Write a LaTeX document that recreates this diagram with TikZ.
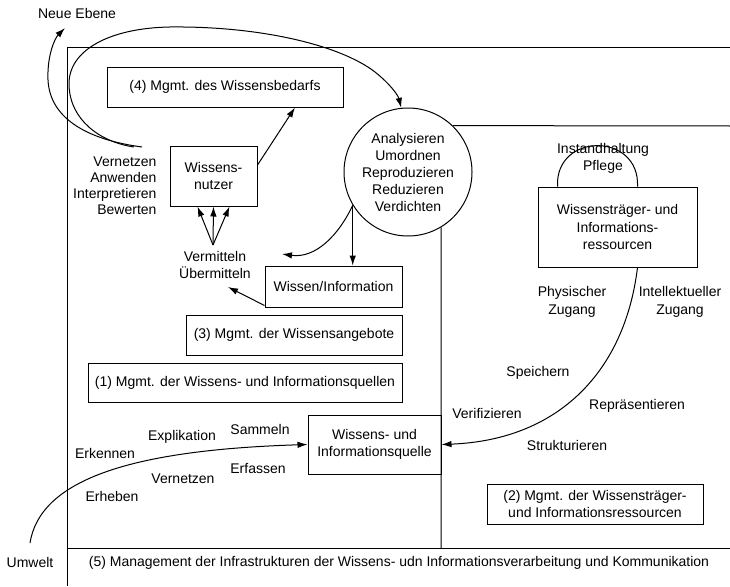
\documentclass[tikz,border=0pt]{standalone}
\usepackage{fontspec}
\setmainfont{Liberation Sans}
\usetikzlibrary{arrows.meta,calc}
\begin{document}
\begin{tikzpicture}[x=1pt,y=-1pt,
  font=\fontsize{14}{16.5}\selectfont,
  every path/.style={line width=1pt},
  arr/.style={-{Latex[length=10pt,width=6.5pt]}},
  box/.style={draw, line width=1pt, inner sep=0pt, align=center, minimum width=#1},
  lbl/.style={inner sep=1pt, align=center}
]
\useasboundingbox (0,0) rectangle (730,586);

% frame lines
\draw (67,586) -- (67,48) -- (730,48);
\draw (67,548) -- (730,548);

% circle
\node[draw, circle, minimum size=128pt, inner sep=0pt, align=center, font=\fontsize{14}{17}\selectfont] (circ) at (408,172)
  {Analysieren\\Umordnen\\Reproduzieren\\Reduzieren\\Verdichten};
\draw (circ.46) -- (730,126);
\draw (circ.-59) -- (441,548);

% boxes
\node[box=236pt, minimum height=40pt] (bedarf) at (225,87) {(4) Mgmt. des Wissensbedarfs};
\node[box=87pt, minimum height=60pt] (nutzer) at (213.5,176) {Wissens-\\nutzer};
\node[box=137pt, minimum height=41pt] (wi) at (333.5,286.5) {Wissen/Information};
\node[box=216pt, minimum height=40pt] (ang) at (294,335) {(3) Mgmt. der Wissensangebote};
\node[box=314pt, minimum height=39pt] (q1) at (245,382.5) {(1) Mgmt. der Wissens- und Informationsquellen};
\node[box=133pt, minimum height=59pt] (quelle) at (374.5,444.5) {Wissens- und\\Informationsquelle};
\node[box=159pt, minimum height=80pt, font=\fontsize{14}{17.5}\selectfont] (traeger) at (617.5,227) {Wissensträger- und\\Informations-\\ressourcen};
\node[box=216pt, minimum height=40pt] (m2) at (595,504) {(2) Mgmt. der Wissensträger-\\und Informationsressourcen};

% text labels
\node[lbl] (neue) at (77,13) {Neue Ebene};
\node[lbl, anchor=east, align=right, font=\fontsize{14}{16}\selectfont] (vern) at (158,186) {Vernetzen\\Anwenden\\Interpretieren\\Bewerten};
\node[lbl, font=\fontsize{14}{17}\selectfont] (vermit) at (215,265) {Vermitteln\\Übermitteln};
\node[lbl, font=\fontsize{14}{17}\selectfont] (pflege) at (603,158) {Instandhaltung\\Pflege};
\node[lbl, font=\fontsize{14}{18}\selectfont] (phys) at (572,302) {Physischer\\Zugang};
\node[lbl, font=\fontsize{14}{18}\selectfont] (intel) at (680,302) {Intellektueller\\Zugang};
\node[lbl] (speich) at (538,373) {Speichern};
\node[lbl] (verif) at (487,413) {Verifizieren};
\node[lbl] (repr) at (637,406) {Repräsentieren};
\node[lbl] (strukt) at (567,445) {Strukturieren};
\node[lbl] (expl) at (182,437) {Explikation};
\node[lbl] (samm) at (260,429) {Sammeln};
\node[lbl] (erk) at (105,453) {Erkennen};
\node[lbl] (erf) at (258,468) {Erfassen};
\node[lbl] (vernetz) at (183,479) {Vernetzen};
\node[lbl] (erh) at (112,496) {Erheben};
\node[lbl] (umwelt) at (30,562) {Umwelt};
\node[lbl] (m5) at (399,563) {(5) Management der Infrastrukturen der Wissens- udn Informationsverarbeitung und Kommunikation};

% coordinates
\coordinate (vstart) at (142,147);
\coordinate (astart) at (134,147);
\coordinate (vm) at (213,245);
\coordinate (vmr) at (282,254);
\coordinate (vml) at (228,287);
\coordinate (uw) at (30,543);

% connectors
\draw[arr] ($(nutzer.east)+(0,-11)$) -- ($(bedarf.south)+(70,0)$);
\draw[arr] (vm) -- ($(nutzer.south)+(-16,0)$);
\draw[arr] (vm) -- (nutzer.south);
\draw[arr] (vm) -- ($(nutzer.south)+(16,0)$);
\draw[arr] (circ.211) -- (circ.211 |- wi.north);
\draw[arr] (circ.211) to[out=245,in=-8] (vmr);
\draw[arr] ($(wi.south west)+(0,-2)$) -- (vml);
\draw[arr] (vstart) .. controls (90,140) and (50,120) .. (48,80) .. controls (47,55) and (55,38) .. (65,28);
\draw[arr] (astart) .. controls (100,142) and (70,120) .. (69,85)
  .. controls (68,50) and (110,28) .. (170,27)
  .. controls (260,26) and (340,45) .. (375,72)
  .. controls (390,84) and (398,95) .. (circ.96);
\draw[arr] (uw) .. controls (40,480) and (130,450) .. (quelle.west);
\draw[arr] ($(traeger.south east)+(-60,0)$) .. controls (625,370) and (560,440) .. (quelle.east);
\draw ($(traeger.north west)+(20,0)$) .. controls (555,132) and (640,132) .. ($(traeger.north east)+(-60,0)$);
\end{tikzpicture}
\end{document}
